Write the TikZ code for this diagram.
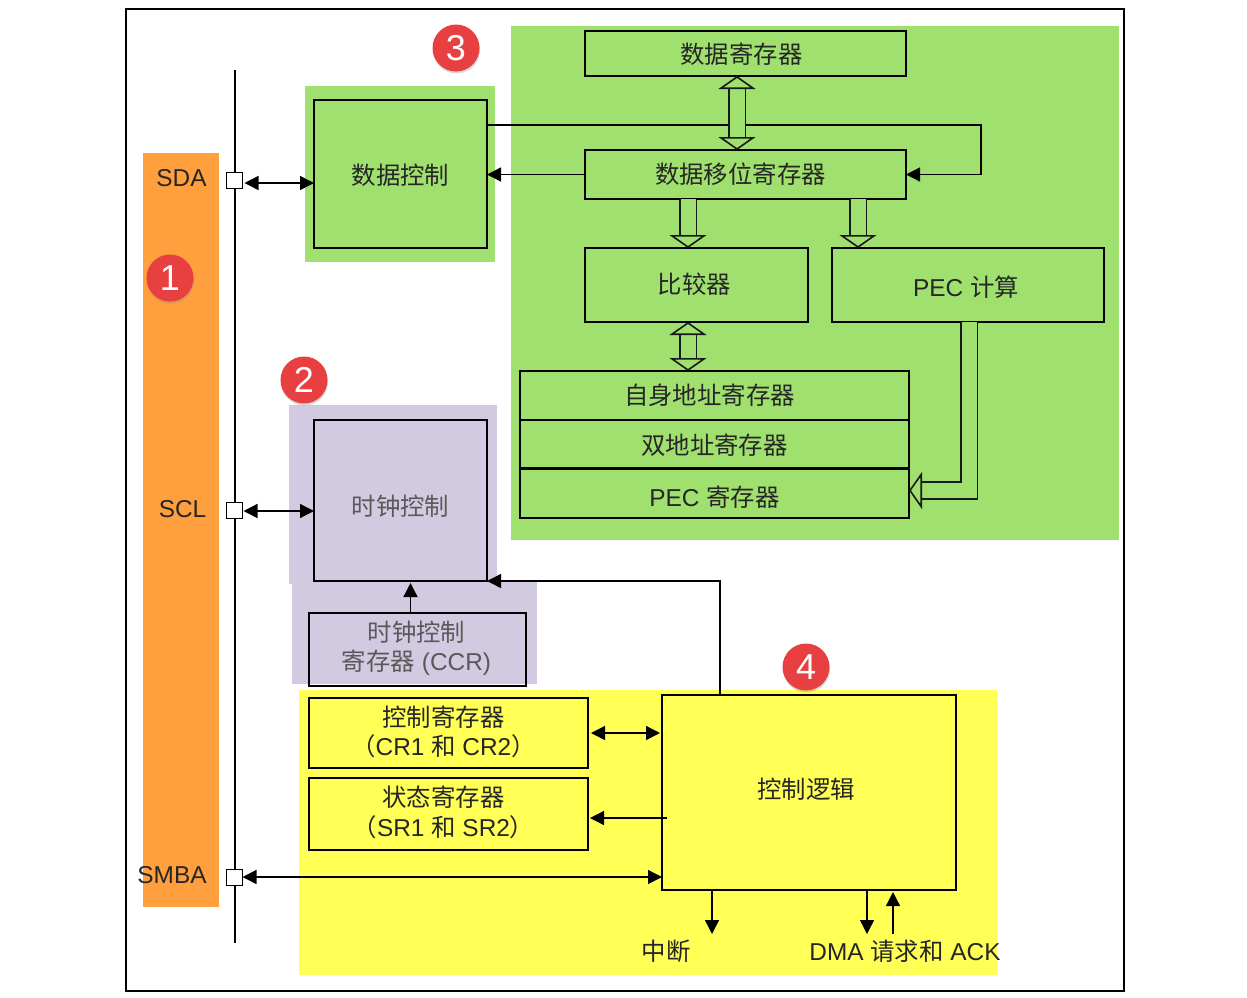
\documentclass[tikz,border=0pt]{standalone}
\usepackage{fontspec}
\setmainfont{Liberation Sans}
\newfontfamily\cjk{Noto Sans CJK SC}
\usetikzlibrary{arrows.meta,positioning,shadows}
\definecolor{panelgreen}{HTML}{A0E06E}
\definecolor{panelpurple}{HTML}{D2CAE0}
\definecolor{panelyellow}{HTML}{FFFF55}
\definecolor{busorange}{HTML}{FF9F3D}
\definecolor{badgered}{HTML}{E84040}
\newcommand{\zh}[1]{{\cjk #1}}
\newcommand{\moved}[3]{\raisebox{#2}[\height][\depth]{\makebox[0pt]{\kern#1\kern#1 #3}}}
\newcommand{\twolines}[2]{\begin{tabular}{@{}c@{}}#1\\#2\end{tabular}}

\begin{document}
\begin{tikzpicture}[x=1pt, y=-1pt, >={Triangle[length=14pt,width=14pt]},
  font=\fontsize{24.4}{28}\selectfont,
  regbox/.style={draw, line width=1.1pt, outer sep=0pt, inner sep=0pt, align=center, text=black!85},
  clockbox/.style={regbox, text=black!65},
  pinbox/.style={draw, fill=white, line width=1pt, outer sep=0pt, minimum size=16pt, inner sep=0pt},
  pinlabel/.style={inner sep=0pt, text=black!85},
  wire/.style={line width=1.4pt},
  fatarrow/.style={line width=1.8pt, draw=black!90, double=panelgreen, double distance=15pt},
  fathead/.tip={Triangle[fill=panelgreen,length=13pt,width=37pt,line width=1.6pt]},
  badge/.style={circle, fill=badgered, minimum size=47pt, inner sep=0pt,
    text=white, drop shadow={shadow xshift=.5pt,shadow yshift=-2pt,opacity=.3}, font=\fontsize{36}{36}\selectfont}]
\useasboundingbox (0,0) rectangle (1247,997);
\draw[line width=1.5pt] (126,9) rectangle (1124,991);
% coloured groups
\fill[busorange] (143,153) rectangle (219,907);
\fill[panelgreen] (511,26) rectangle (1119,540);
\fill[panelgreen] (305,86) rectangle (495,262);
\fill[panelpurple] (289,405) rectangle (497,584);
\fill[panelpurple] (292,581) rectangle (537,684);
\fill[panelyellow] (299,690) rectangle (997,975);
% bus with its pins
\coordinate (bustop) at (235,70);
\coordinate (busend) at (235,943);
\draw[line width=2.8pt] (bustop) -- (busend);
\node[pinbox] (sdapin) at (234.5,180) {};
\node[pinbox] (sclpin) at (234.5,510) {};
\node[pinbox] (smbapin) at (234.5,877) {};
\node[pinlabel] (sda) at (181.5,178) {SDA};
\node[pinlabel] (scl) at (182.5,509) {SCL};
\node[pinlabel] (smba) at (172,875) {SMBA};
% registers on the data side
\node[regbox, minimum width=321pt, minimum height=45pt] (datareg) at (745.5,53.5) {\moved{-4pt}{-1pt}{\zh{数据寄存器}}};
\node[regbox, minimum width=321pt, minimum height=49pt, below=74pt of datareg] (shiftreg) {\moved{-5pt}{0pt}{\zh{数据移位寄存器}}};
\node[regbox, minimum width=173pt, minimum height=148pt] (datactl) at (400.5,174) {\moved{0pt}{-1pt}{\zh{数据控制}}};
\node[regbox, minimum width=223pt, minimum height=74pt, below=49pt of shiftreg.south west, anchor=north west] (comparer) {\moved{-2pt}{1pt}{\zh{比较器}}};
\node[regbox, minimum width=272pt, minimum height=74pt, right=24pt of comparer] (pecbox) {\moved{-2pt}{-2pt}{PEC \zh{计算}}};
\node[regbox, minimum width=389pt, minimum height=49pt] (ownaddr) at (714.5,395.5) {\moved{-5pt}{0pt}{\zh{自身地址寄存器}}};
\node[regbox, minimum width=389pt, minimum height=48pt, below=0pt of ownaddr] (dualaddr) {\moved{0pt}{-1pt}{\zh{双地址寄存器}}};
\node[regbox, minimum width=389pt, minimum height=49pt, below=1pt of dualaddr] (pecreg) {\moved{0pt}{-4pt}{PEC \zh{寄存器}}};
% clock side
\node[clockbox, minimum width=173pt, minimum height=161pt] (clkctl) at (400.5,500.5) {\moved{0pt}{-6pt}{\zh{时钟控制}}};
\node[clockbox, minimum width=217pt, minimum height=73pt] (ccr) at (417.5,649.5) {\moved{-1pt}{0pt}{\twolines{\zh{时钟控制}}{\zh{寄存器} (CCR)}}};
% control side
\node[regbox, minimum width=279pt, minimum height=70pt] (crreg) at (448.5,733) {\moved{-5pt}{-2pt}{\twolines{\zh{控制寄存器}}{\zh{（}CR1 \zh{和} CR2\zh{）}}}};
\node[regbox, minimum width=279pt, minimum height=72pt, below=10pt of crreg] (srreg) {\moved{-5pt}{-1.5pt}{\twolines{\zh{状态寄存器}}{\zh{（}SR1 \zh{和} SR2\zh{）}}}};
\node[regbox, minimum width=294pt, minimum height=195pt] (logic) at (809,792.5) {\moved{-3pt}{3pt}{\zh{控制逻辑}}};
\node[pinlabel] (irqlabel) at (666,951) {\zh{中断}};
\node[pinlabel] (dmalabel) at (905,951) {DMA \zh{请求和} ACK};
\coordinate (irqend) at (712,934);
\coordinate (dmareq) at (867,934);
\coordinate (dmaack) at (893,934);
% thin connectors
\draw[wire, <->] ([xshift=2pt,yshift=-3pt]sdapin.east) -- ([yshift=-9pt]datactl.west);
\draw[wire, <->] ([xshift=1pt,yshift=-1pt]sclpin.east) -- ([yshift=-10.5pt]clkctl.west);
\draw[wire, <->] (smbapin.east) -- (smbapin.east -| logic.west);
\draw[wire, ->] (shiftreg.west) -- (shiftreg.west -| datactl.east);
\draw[wire, ->] ([yshift=49pt]datactl.east) -| (981,174.5) -- (shiftreg.east);
\draw[wire, ->] ([xshift=-7pt]ccr.north) -- ++(0,-30);
\draw[wire, ->] (720,695) |- (clkctl.south east);
\draw[wire, <->] ([xshift=3pt]crreg.east) -- ([xshift=-2pt,yshift=59.5pt]logic.west);
\draw[wire, ->] ([xshift=5pt,yshift=-25.5pt]logic.west) -- ([xshift=2pt,yshift=-4pt]srreg.east);
\draw[wire, ->] (logic.south -| irqend) -- (irqend);
\draw[wire, ->] (logic.south -| dmareq) -- (dmareq);
\draw[wire, <-] ([yshift=-2pt]logic.south -| dmaack) -- (dmaack);
% hollow bus arrows
\draw[fatarrow, {fathead}-{fathead}] ([xshift=-8.5pt]datareg.south) -- ([xshift=-8.5pt]shiftreg.north);
\draw[fatarrow, -{fathead}] ([xshift=-57.5pt]shiftreg.south) -- ([xshift=-8.5pt]comparer.north);
\draw[fatarrow, -{fathead}] ([xshift=112.5pt]shiftreg.south) -- ([xshift=-110pt]pecbox.north);
\draw[fatarrow, {fathead}-{fathead}] ([xshift=-8.5pt]comparer.south) -- ([xshift=-26.5pt]ownaddr.north);
\draw[fatarrow, -{fathead}] ([xshift=1pt]pecbox.south) |- ([yshift=3pt]pecreg.east);
% numbered badges
\node[badge] (mark1) at (170,278) {1};
\node[badge] (mark2) at (304,380) {2};
\node[badge] (mark3) at (456,48) {3};
\node[badge] (mark4) at (806,667) {4};
\end{tikzpicture}
\end{document}
